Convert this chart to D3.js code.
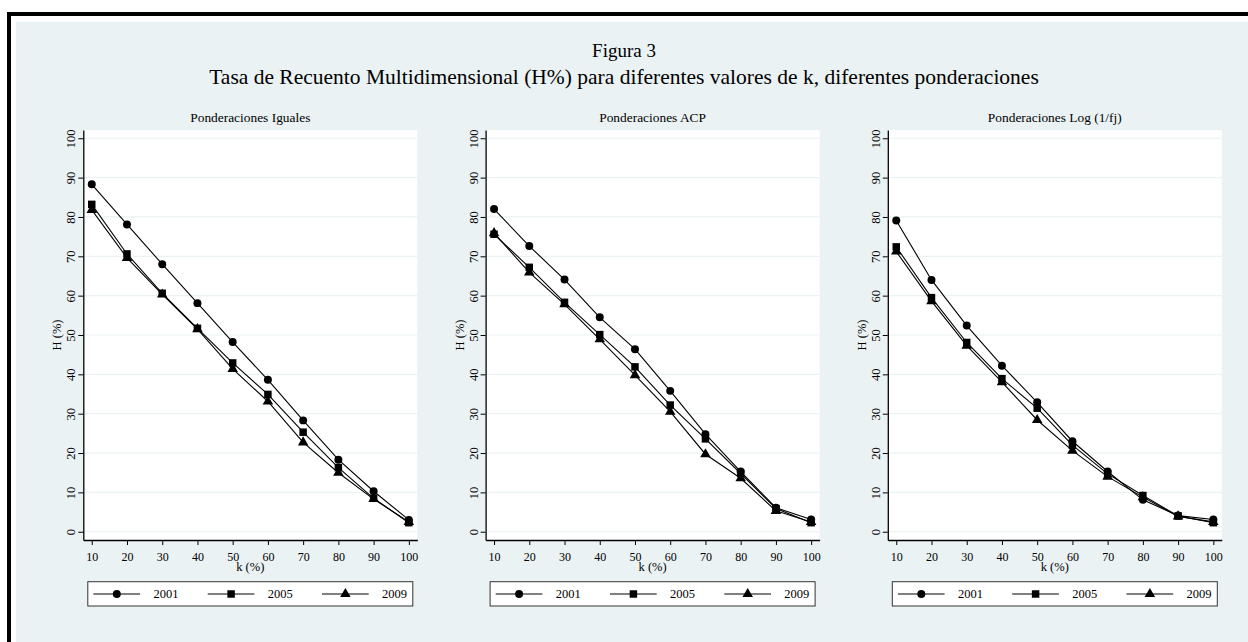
<!DOCTYPE html>
<html>
<head>
<meta charset="utf-8">
<script src="https://cdn.jsdelivr.net/npm/d3@7"></script>
<style>
body { margin: 0; background: #fff; }
svg { display: block; }
text { font-family: "Liberation Serif", "Times New Roman", serif; fill: #000; }
</style>
</head>
<body>
<div id="chart"></div>
<script>

var kValues = [10, 20, 30, 40, 50, 60, 70, 80, 90, 100];
var yTicks = [0, 10, 20, 30, 40, 50, 60, 70, 80, 90, 100];
var years = ["2001", "2005", "2009"];
var panelTitles = ["Ponderaciones Iguales", "Ponderaciones ACP", "Ponderaciones Log (1/fj)"];

// H (%)
var iguales2001 = [88.3, 78.1, 68.0, 58.1, 48.2, 38.6, 28.3, 18.3, 10.3, 3.0];
var iguales2005 = [83.2, 70.6, 60.6, 51.7, 42.9, 34.9, 25.3, 16.3, 8.5, 2.3];
var iguales2009 = [81.8, 69.6, 60.3, 51.5, 41.4, 33.1, 22.7, 15.0, 8.3, 2.5];

var acp2001 = [82.0, 72.6, 64.1, 54.5, 46.4, 35.8, 24.8, 15.3, 6.1, 3.1];
var acp2005 = [75.6, 67.2, 58.3, 50.1, 41.9, 32.2, 23.6, 14.8, 5.9, 2.3];
var acp2009 = [75.9, 65.9, 57.8, 48.9, 39.8, 30.5, 19.7, 13.6, 5.3, 2.5];

var log2001 = [79.1, 64.0, 52.4, 42.2, 32.9, 23.0, 15.3, 8.1, 4.1, 3.1];
var log2005 = [72.4, 59.5, 48.1, 38.9, 31.4, 22.0, 14.7, 9.2, 4.0, 2.3];
var log2009 = [71.2, 58.6, 47.3, 38.0, 28.4, 20.6, 14.0, 8.8, 3.9, 2.5];

var panels = [
    { title: panelTitles[0], series: [iguales2001, iguales2005, iguales2009] },
    { title: panelTitles[1], series: [acp2001, acp2005, acp2009] },
    { title: panelTitles[2], series: [log2001, log2005, log2009] }
];

var W = 1248, H = 642;
var bg = "#eaf2f3";

var svg = d3.select("#chart")
    .append("svg")
    .attr("width", W)
    .attr("height", H);

// frame + graph region
svg.append("rect").attr("width", W).attr("height", H).attr("fill", "#fff");
svg.append("path")
    .attr("d", "M9," + H + "V14H" + W)
    .attr("fill", "none")
    .attr("stroke", "#000")
    .attr("stroke-width", 4);
svg.append("rect")
    .attr("x", 16).attr("y", 22)
    .attr("width", W - 16).attr("height", H - 22)
    .attr("fill", bg);

svg.append("text")
    .attr("x", 624).attr("y", 57)
    .attr("text-anchor", "middle")
    .style("font-size", "19px")
    .text("Figura 3");
svg.append("text")
    .attr("x", 624).attr("y", 83.5)
    .attr("text-anchor", "middle")
    .style("font-size", "21.5px")
    .text("Tasa de Recuento Multidimensional (H%) para diferentes valores de k, diferentes ponderaciones");

var plotW = 334, plotH = 410;
var panelLeft = [83.3, 485.6, 887.8];
var plotTop = 130;

var x = d3.scaleLinear().domain([7.6, 102.4]).range([0, plotW]);
var y = d3.scaleLinear().domain([-2.1, 102.1]).range([plotH, 0]);

var symbols = [d3.symbolCircle, d3.symbolSquare, d3.symbolTriangle];
var symbolSizes = [50, 56, 48];

var line = d3.line()
    .x(function (d, i) { return x(kValues[i]); })
    .y(function (d) { return y(d); });

panels.forEach(function (p, pi) {
    var g = svg.append("g")
        .attr("transform", "translate(" + panelLeft[pi] + "," + plotTop + ")");

    g.append("rect")
        .attr("width", plotW).attr("height", plotH)
        .attr("fill", "#fff");

    g.selectAll(".grid")
        .data(yTicks)
        .enter().append("line")
        .attr("class", "grid")
        .attr("x1", 0).attr("x2", plotW)
        .attr("y1", function (d) { return y(d); })
        .attr("y2", function (d) { return y(d); })
        .attr("stroke", bg)
        .attr("stroke-width", 1.2);

    var yAxis = g.append("g")
        .call(d3.axisLeft(y).tickValues(yTicks).tickSize(5).tickSizeOuter(0));
    yAxis.selectAll("text")
        .attr("x", null).attr("dy", null)
        .attr("transform", "translate(-8,0) rotate(-90)")
        .attr("text-anchor", "middle")
        .style("font-size", "12.5px");

    var xAxis = g.append("g")
        .attr("transform", "translate(0," + plotH + ")")
        .call(d3.axisBottom(x).tickValues(kValues).tickSize(5).tickSizeOuter(0).tickPadding(7));
    xAxis.selectAll("text").style("font-size", "12px");

    [yAxis, xAxis].forEach(function (a) {
        a.selectAll("text").attr("font-family", null);
        a.select(".domain").attr("stroke", "#000").attr("stroke-width", 1.3);
        a.selectAll(".tick line").attr("stroke", "#000").attr("stroke-width", 1);
    });

    g.append("text")
        .attr("x", plotW / 2).attr("y", -8)
        .attr("text-anchor", "middle")
        .style("font-size", "13.4px")
        .text(p.title);

    g.append("text")
        .attr("transform", "translate(-22," + (plotH / 2) + ") rotate(-90)")
        .attr("text-anchor", "middle")
        .style("font-size", "12.5px")
        .text("H (%)");

    g.append("text")
        .attr("x", plotW / 2).attr("y", plotH + 31)
        .attr("text-anchor", "middle")
        .style("font-size", "12.5px")
        .text("k (%)");

    p.series.forEach(function (s, si) {
        g.append("path")
            .datum(s)
            .attr("d", line)
            .attr("fill", "none")
            .attr("stroke", "#000")
            .attr("stroke-width", 1.1);
        g.selectAll(".m" + si)
            .data(s)
            .enter().append("path")
            .attr("class", "m" + si)
            .attr("transform", function (d, i) { return "translate(" + x(kValues[i]) + "," + y(d) + ")"; })
            .attr("d", d3.symbol().type(symbols[si]).size(symbolSizes[si]))
            .attr("fill", "#000");
    });

    // legend
    var lg = g.append("g").attr("transform", "translate(4.5," + (plotH + 41.7) + ")");
    lg.append("rect")
        .attr("width", 325).attr("height", 24.3)
        .attr("fill", "#fff")
        .attr("stroke", "#333")
        .attr("stroke-width", 1);
    years.forEach(function (yr, i) {
        var ox = i * 114.3, cy = 12.3;
        lg.append("line")
            .attr("x1", ox + 5.6).attr("x2", ox + 52.3)
            .attr("y1", cy).attr("y2", cy)
            .attr("stroke", "#000").attr("stroke-width", 1);
        lg.append("path")
            .attr("transform", "translate(" + (ox + 29) + "," + cy + ")")
            .attr("d", d3.symbol().type(symbols[i]).size(symbolSizes[i]))
            .attr("fill", "#000");
        lg.append("text")
            .attr("x", ox + 65.6).attr("y", cy + 4.5)
            .style("font-size", "12.5px")
            .text(yr);
    });
});
</script>
</body>
</html>
